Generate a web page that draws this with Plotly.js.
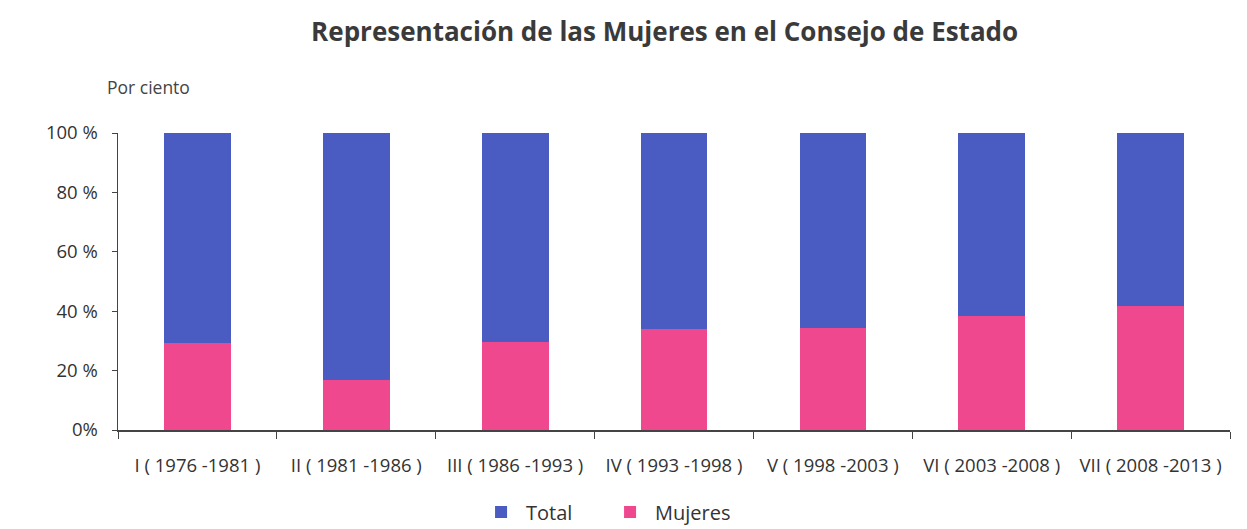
<!DOCTYPE html>
<html>
<head>
<meta charset="utf-8">
<script src="https://cdn.plot.ly/plotly-3.0.1.min.js"></script>
<style>
  html, body { margin: 0; padding: 0; background: #ffffff; }
  #chart { width: 1247px; height: 529px; }
</style>
</head>
<body>
<div id="chart"></div>
<script>
  // Representación de las Mujeres en el Consejo de Estado — stacked 100% bars.
  var periods = [
    "I ( 1976 -1981 )",
    "II ( 1981 -1986 )",
    "III ( 1986 -1993 )",
    "IV ( 1993 -1998 )",
    "V ( 1998 -2003 )",
    "VI ( 2003 -2008 )",
    "VII ( 2008 -2013 )"
  ];
  // Share of women (%).
  var mujeres = [29.2, 16.9, 29.5, 34.0, 34.3, 38.3, 41.9];
  // Remainder up to 100 % (blue part of each bar).
  var total = [70.8, 83.1, 70.5, 66.0, 65.7, 61.7, 58.1];

  var yTickVals = [0, 20, 40, 60, 80, 100];
  var yTickText = ["0%", "20 %", "40 %", "60 %", "80 %", "100 %"];

  var BLUE = "#4a5cc2";
  var PINK = "#f0488f";
  var INK = "#333333";
  var FONT = "Open Sans, Lato, sans-serif";

  var traces = [
    {
      type: "bar",
      name: "Mujeres",
      x: periods,
      y: mujeres,
      marker: { color: PINK },
      hovertemplate: "%{x}<br>Mujeres: %{y}%<extra></extra>"
    },
    {
      type: "bar",
      name: "Total",
      x: periods,
      y: total,
      marker: { color: BLUE },
      hovertemplate: "%{x}<br>Total: %{y}%<extra></extra>"
    }
  ];

  var layout = {
    width: 1247,
    height: 529,
    autosize: false,
    paper_bgcolor: "#ffffff",
    plot_bgcolor: "#ffffff",
    font: { family: FONT, color: INK, size: 15 },
    margin: { l: 118, r: 17, t: 133, b: 99 },
    barmode: "stack",
    bargap: 0.58,
    title: {
      text: "<b>Representación de las Mujeres en el Consejo de Estado</b>",
      font: { family: FONT, size: 26, color: "#3a3a3a" },
      x: 0.533,
      xanchor: "center",
      y: 0.94,
      yanchor: "middle"
    },
    showlegend: true,
    legend: {
      orientation: "h",
      traceorder: "reversed",
      xref: "paper",
      yref: "container",
      x: 0.438,
      xanchor: "center",
      y: 0.032,
      yanchor: "middle",
      font: { size: 20, color: INK },
      itemwidth: 40,
      entrywidth: 74
    },
    xaxis: {
      type: "category",
      automargin: false,
      showline: true,
      linecolor: "#444444",
      linewidth: 1.5,
      showgrid: false,
      ticks: "outside",
      tickson: "boundaries",
      ticklen: 7,
      tickcolor: "#444444",
      ticklabelstandoff: 18,
      tickfont: { size: 18.5, color: INK }
    },
    yaxis: {
      range: [0, 100],
      automargin: false,
      showline: true,
      linecolor: "#444444",
      linewidth: 1.5,
      showgrid: false,
      zeroline: false,
      ticks: "outside",
      ticklen: 5,
      tickcolor: "#444444",
      ticklabelstandoff: 10,
      tickvals: yTickVals,
      ticktext: yTickText,
      tickfont: { size: 18.5, color: INK }
    },
    annotations: [
      {
        text: "Por ciento",
        xref: "paper",
        yref: "paper",
        x: -0.012,
        y: 1.156,
        xanchor: "left",
        yanchor: "middle",
        showarrow: false,
        font: { size: 17.5, color: "#444444" }
      }
    ]
  };

  Plotly.newPlot("chart", traces, layout, { displayModeBar: false, staticPlot: true });
</script>
</body>
</html>
